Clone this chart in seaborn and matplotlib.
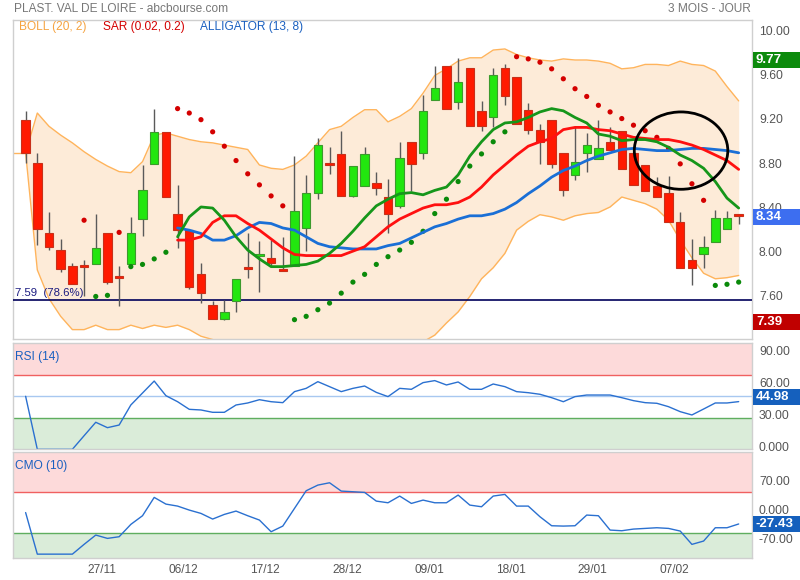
import numpy as np
import pandas as pd
import matplotlib
matplotlib.use("Agg")
import matplotlib.pyplot as plt
import matplotlib.transforms as mtransforms
from matplotlib.patches import Ellipse, Rectangle
import seaborn as sns

# trading sessions (Euronext, closed 25/12, 26/12, 01/01)
dates = [d for d in pd.bdate_range("2018-11-19", "2019-02-15")
         if d.strftime("%m-%d") not in ("12-25", "12-26", "01-01")]

opens = [9.22, 8.83, 8.19, 8.04, 7.90, 7.90, 7.91, 8.19, 7.80, 7.91,
         8.32, 8.82, 9.11, 8.37, 8.22, 7.82, 7.54, 7.42, 7.58, 7.89,
         7.99, 7.97, 7.86, 7.90, 8.24, 8.56, 8.82, 8.91, 8.53, 8.62,
         8.65, 8.52, 8.44, 9.02, 8.92, 9.40, 9.71, 9.38, 9.69, 9.30,
         9.24, 9.69, 9.61, 9.31, 9.13, 9.22, 8.92, 8.72, 8.92, 8.86,
         9.02, 9.12, 8.92, 8.81, 8.62, 8.56, 8.29, 7.95, 8.00, 8.11,
         8.23, 8.36]
highs = [9.30, 8.92, 8.38, 8.14, 7.92, 7.95, 8.37, 8.19, 7.90, 8.34,
         8.81, 9.32, 9.11, 8.63, 8.22, 7.92, 7.58, 7.59, 7.78, 8.19,
         8.12, 8.13, 8.16, 8.89, 8.72, 9.05, 8.97, 9.12, 8.80, 8.97,
         8.75, 8.68, 9.02, 9.02, 9.44, 9.71, 9.71, 9.78, 9.69, 9.39,
         9.69, 9.72, 9.61, 9.37, 9.18, 9.22, 8.92, 9.16, 9.10, 9.22,
         9.15, 9.12, 8.92, 8.81, 8.70, 8.71, 8.38, 8.14, 8.17, 8.40,
         8.39, 8.36]
lows = [8.83, 8.09, 8.04, 7.84, 7.73, 7.62, 7.91, 7.73, 7.53, 7.91,
        8.17, 8.82, 8.52, 8.06, 7.69, 7.56, 7.42, 7.41, 7.48, 7.79,
        7.66, 7.89, 7.85, 7.90, 8.03, 8.50, 8.73, 8.53, 8.52, 8.62,
        8.54, 8.19, 8.42, 8.57, 8.86, 9.40, 9.32, 9.32, 9.16, 9.12,
        9.15, 9.35, 9.18, 9.09, 8.82, 8.78, 8.53, 8.67, 8.75, 8.86,
        8.95, 8.77, 8.63, 8.57, 8.52, 8.29, 7.88, 7.72, 7.88, 8.11,
        8.23, 8.28]
closes = [8.92, 8.23, 8.07, 7.87, 7.73, 7.89, 8.06, 7.75, 7.79, 8.19,
          8.58, 9.11, 8.52, 8.22, 7.71, 7.65, 7.42, 7.48, 7.78, 7.87,
          8.00, 7.92, 7.85, 8.39, 8.56, 8.99, 8.81, 8.53, 8.80, 8.91,
          8.60, 8.37, 8.87, 8.82, 9.30, 9.51, 9.32, 9.56, 9.16, 9.16,
          9.62, 9.43, 9.18, 9.13, 9.02, 8.82, 8.58, 8.84, 8.99, 8.96,
          8.95, 8.77, 8.63, 8.57, 8.52, 8.29, 7.88, 7.88, 8.07, 8.33,
          8.33, 8.35]

boll_upper = [8.92, 9.28, 9.16, 9.08, 9.01, 8.93, 8.86, 8.80, 8.75, 8.74,
              8.84, 9.08, 9.10, 9.07, 9.04, 9.02, 9.01, 8.99, 8.97, 8.95,
              8.81, 8.78, 8.77, 8.81, 8.89, 9.01, 9.13, 9.16, 9.24, 9.31,
              9.31, 9.20, 9.25, 9.32, 9.46, 9.62, 9.68, 9.75, 9.78, 9.78,
              9.85, 9.86, 9.81, 9.78, 9.76, 9.75, 9.77, 9.76, 9.76, 9.75,
              9.73, 9.68, 9.69, 9.72, 9.72, 9.71, 9.75, 9.72, 9.71, 9.66,
              9.52, 9.39]
boll_lower = [8.92, 7.86, 7.60, 7.44, 7.32, 7.32, 7.36, 7.32, 7.32, 7.36,
              7.33, 7.36, 7.34, 7.36, 7.32, 7.26, 7.23, 7.19, 7.16, 7.14,
              7.12, 7.11, 7.10, 7.10, 7.09, 7.07, 7.06, 7.07, 7.08, 7.09,
              7.10, 7.12, 7.14, 7.17, 7.21, 7.27, 7.38, 7.48, 7.62, 7.78,
              7.88, 8.01, 8.22, 8.30, 8.36, 8.34, 8.31, 8.35, 8.37, 8.38,
              8.43, 8.52, 8.49, 8.46, 8.41, 8.31, 8.13, 7.97, 7.83, 7.78,
              7.79, 7.81]

nan = np.nan
sar = [nan, nan, nan, nan, nan, 8.31, 7.62, 7.63, 8.20, 7.89,
       7.91, 7.96, 8.02, 9.32, 9.28, 9.22, 9.11, 8.98, 8.85, 8.73,
       8.63, 8.53, 8.44, 7.41, 7.44, 7.50, 7.56, 7.65, 7.75, 7.82,
       7.91, 7.98, 8.04, 8.11, 8.21, 8.37, 8.50, 8.66, 8.80, 8.91,
       9.02, 9.11, 9.79, 9.77, 9.74, 9.68, 9.59, 9.50, 9.43, 9.35,
       9.29, 9.23, 9.17, 9.12, 9.06, 8.96, 8.82, 8.64, 8.49, 7.72,
       7.73, 7.75]

pad13 = [nan] * 13
lips = pad13 + [8.16, 8.34, 8.43, 8.42, 8.31, 8.16, 8.04, 7.96, 7.89, 7.89,
                7.90, 7.91, 7.94, 8.01, 8.10, 8.21, 8.33, 8.44, 8.50, 8.55,
                8.56, 8.54, 8.58, 8.61, 8.72, 8.89, 9.02, 9.13, 9.19, 9.20,
                9.24, 9.29, 9.32, 9.30, 9.24, 9.19, 9.09, 9.07, 9.03, 9.04,
                9.04, 9.02, 8.97, 8.90, 8.85, 8.78, 8.66, 8.51, 8.42]
teeth = pad13 + [8.13, 8.13, 8.16, 8.29, 8.35, 8.35, 8.28, 8.22, 8.14, 8.06,
                 8.00, 7.99, 7.99, 7.99, 7.99, 8.03, 8.07, 8.16, 8.25, 8.32,
                 8.37, 8.42, 8.45, 8.45, 8.47, 8.52, 8.61, 8.72, 8.81, 8.90,
                 8.98, 9.02, 9.05, 9.13, 9.15, 9.15, 9.13, 9.12, 9.09, 9.06,
                 9.05, 9.04, 9.04, 9.02, 8.99, 8.95, 8.90, 8.85, 8.77]
jaw = pad13 + [8.24, 8.22, 8.19, 8.13, 8.13, 8.17, 8.24, 8.29, 8.28, 8.24,
               8.22, 8.16, 8.10, 8.07, 8.06, 8.05, 8.05, 8.05, 8.08, 8.10,
               8.15, 8.20, 8.25, 8.28, 8.32, 8.35, 8.35, 8.37, 8.41, 8.47,
               8.55, 8.62, 8.70, 8.76, 8.80, 8.85, 8.89, 8.92, 8.95, 8.96,
               8.95, 8.94, 8.94, 8.95, 8.96, 8.96, 8.95, 8.94, 8.92]

rsi = [50.0, 0.0, 0.0, 0.0, 0.0, 12.8, 25.5, 20.4, 22.9, 41.8,
       53.1, 64.4, 50.6, 44.9, 37.7, 37.1, 34.9, 34.9, 41.8, 43.7,
       46.8, 44.9, 44.0, 54.4, 57.5, 63.8, 59.1, 54.4, 57.5, 59.7,
       53.7, 49.7, 57.5, 56.6, 62.9, 64.8, 60.7, 63.5, 56.6, 56.6,
       61.6, 59.1, 54.4, 53.4, 51.9, 48.7, 44.9, 49.7, 51.2, 51.2,
       51.2, 48.7, 45.9, 44.0, 43.4, 40.2, 35.5, 32.4, 38.0, 43.7,
       43.7, 44.98]
cmo = [0.0, -100.0, -100.0, -100.0, -100.0, -76.5, -54.1, -62.1, -58.1, -28.4,
       -7.6, 36.5, 20.4, 15.6, 6.0, -2.0, -15.6, -4.4, 3.6, -7.6,
       -18.0, -46.1, -32.5, 10.0, 52.5, 66.1, 71.7, 51.7, 50.1, 48.5,
       27.6, 23.6, 39.7, 22.0, 30.0, 23.6, 23.6, 42.1, 18.0, 14.0,
       39.7, 43.7, 15.6, 15.6, -10.0, -31.7, -32.5, -31.7, -6.0, -7.6,
       -42.1, -43.7, -39.7, -38.1, -36.5, -38.1, -44.5, -76.5, -68.5, -36.5,
       -36.5, -27.43]

period_high = 9.77
period_low = 7.39
last_price = 8.34
fibo_level = 7.59

idx = np.arange(len(dates))
grey = "#555555"

sns.set_theme(style="white")
plt.rcParams['font.family'] = ['Liberation Sans', 'DejaVu Sans']

fig = plt.figure(figsize=(8, 5.8), dpi=100)
L, W = 13 / 800, 739 / 800
ax = fig.add_axes([L, 1 - 339 / 580, W, 319 / 580])
ax_rsi = fig.add_axes([L, 1 - 449.3 / 580, W, 106 / 580], sharex=ax)
ax_cmo = fig.add_axes([L, 1 - 558.3 / 580, W, 106 / 580], sharex=ax)
lift = mtransforms.ScaledTranslation(0, 3 / 100, fig.dpi_scale_trans)

for a in (ax, ax_rsi, ax_cmo):
    for s in a.spines.values():
        s.set_color("#cfcfcf")
        s.set_linewidth(1)
    a.yaxis.tick_right()
    a.tick_params(axis="both", length=0, labelsize=8.8, labelcolor=grey, pad=5)

# ---- price panel ----
ax.fill_between(idx, boll_lower, boll_upper, color="#fdebd8", lw=0, zorder=1)
ax.plot(idx, boll_upper, color="#ffb45c", lw=1, zorder=2)
ax.plot(idx, boll_lower, color="#ffb45c", lw=1, zorder=2)
ax.plot([-1.1, 0], [boll_upper[0]] * 2, color="#ffb45c", lw=1, zorder=2)

ax.axhline(fibo_level, color="#00005a", lw=1.2, zorder=3)
ax.text(-0.95, fibo_level + 0.015, f"{fibo_level:.2f}  (78.6%)", color="#1a1a80",
        fontsize=8.2, va="bottom", ha="left", zorder=6)

candles = pd.DataFrame({"i": idx, "o": opens, "h": highs, "l": lows, "c": closes})
candles["up"] = candles["c"] >= candles["o"]
ax.vlines(candles["i"], candles["l"], candles["h"], color="#5a5a5a", lw=1, zorder=4)
body_lo = candles[["o", "c"]].min(axis=1)
body_h = (candles["c"] - candles["o"]).abs().clip(lower=0.018)
ax.bar(candles["i"], body_h, bottom=body_lo, width=0.72,
       color=np.where(candles["up"], "#22e60f", "#ff1a00"),
       edgecolor=np.where(candles["up"], "#3c9a2c", "#c8301a"),
       linewidth=0.8, zorder=5)

sar_df = pd.DataFrame({"i": idx, "sar": sar, "close": closes}).dropna()
sar_df["side"] = np.where(sar_df["sar"] > sar_df["close"], "down", "up")
sns.scatterplot(data=sar_df, x="i", y="sar", hue="side",
                palette={"down": "#d40000", "up": "#0a8a0a"},
                s=14, edgecolor="none", legend=False, ax=ax, zorder=6)

gator = pd.DataFrame({"i": idx, "jaw": jaw, "teeth": teeth, "lips": lips})
gator = gator.melt(id_vars="i", var_name="line", value_name="v").dropna()
sns.lineplot(data=gator, x="i", y="v", hue="line",
             palette={"jaw": "#1a6fd6", "teeth": "#ff1010", "lips": "#16961a"},
             hue_order=["jaw", "teeth", "lips"], lw=2, legend=False, ax=ax, zorder=7)

ax.add_patch(Ellipse((56.07, 8.94), width=8.0, height=0.70, fill=False,
                     edgecolor="black", lw=2, zorder=8))

ax.set_xlim(-1.08, 62.14)
ax.set_ylim(7.235, 10.122)
ax.set_yticks([7.6, 8.0, 8.4, 8.8, 9.2, 9.6, 10.0])
ax.set_yticklabels([f"{v:.2f}" for v in [7.6, 8.0, 8.4, 8.8, 9.2, 9.6, 10.0]])
ax.set_xlabel("")
ax.set_ylabel("")
ax.tick_params(axis="x", labelbottom=False)


def value_box(a, val, txt, color, h, dy=0.0):
    tr = mtransforms.blended_transform_factory(fig.transFigure, a.transData)
    tr = tr + mtransforms.ScaledTranslation(0, dy / 100, fig.dpi_scale_trans)
    a.add_patch(Rectangle((753 / 800, val - h / 2), 47 / 800, h, transform=tr,
                          facecolor=color, edgecolor="none", clip_on=False, zorder=20))
    a.text(756 / 800, val, txt, transform=tr, color="white", fontsize=9.5,
           fontweight="bold", va="center", ha="left", zorder=21, clip_on=False)


value_box(ax, period_high, f"{period_high:.2f}", "#0c8a0c", 0.145, dy=-1)
value_box(ax, last_price, f"{last_price:.2f}", "#3d6ef0", 0.145)
value_box(ax, period_low, f"{period_low:.2f}", "#c00000", 0.145)

# ---- RSI panel ----
ax_rsi.axhspan(70, 100, color="#fddada", lw=0)
ax_rsi.axhspan(0, 30, color="#daecd9", lw=0)
ax_rsi.axhline(70, color="#f06060", lw=1)
ax_rsi.axhline(50, color="#a8c8f0", lw=1)
ax_rsi.axhline(30, color="#5fae5f", lw=1)
sns.lineplot(x=idx, y=rsi, color="#2a70d0", lw=1, ax=ax_rsi)
ax_rsi.set_ylim(0, 100)
ax_rsi.set_yticks([0, 30, 60, 90])
ax_rsi.set_yticklabels(["0.000", "30.00", "60.00", "90.00"])
ax_rsi.tick_params(axis="x", labelbottom=False)
ax_rsi.text(0.003, 0.93, "RSI (14)", transform=ax_rsi.transAxes, color="#1a60c0",
            fontsize=8.6, va="top", ha="left")
value_box(ax_rsi, rsi[-1], f"{rsi[-1]:.2f}", "#1560bd", 15.1, dy=5)

# ---- CMO panel ----
ax_cmo.axhspan(50, 145, color="#fddada", lw=0)
ax_cmo.axhspan(-110, -50, color="#daecd9", lw=0)
ax_cmo.axhline(50, color="#f06060", lw=1)
ax_cmo.axhline(-50, color="#5fae5f", lw=1)
sns.lineplot(x=idx, y=cmo, color="#2a70d0", lw=1, ax=ax_cmo)
ax_cmo.set_ylim(-110, 145)
ax_cmo.set_yticks([-70, 0, 70])
ax_cmo.set_yticklabels(["-70.00", "0.000", "70.00"])
ax_cmo.text(0.003, 0.93, "CMO (10)", transform=ax_cmo.transAxes, color="#1a60c0",
            fontsize=8.6, va="top", ha="left")
value_box(ax_cmo, cmo[-1], f"{cmo[-1]:.2f}", "#1560bd", 38.5)

# tick labels sit a little above their level, as in the original
for a in (ax, ax_rsi, ax_cmo):
    for lab in a.get_yticklabels():
        lab.set_transform(lab.get_transform() + lift)

tick_pos = idx[6::7]
ax_cmo.set_xticks(tick_pos + 0.5)
ax_cmo.set_xticklabels([dates[i].strftime("%d/%m") for i in tick_pos])
ax_cmo.tick_params(axis="x", pad=4, labelsize=8.6)

# ---- header texts ----
fig.text(14 / 800, 1 - 9 / 580, "PLAST. VAL DE LOIRE - abcbourse.com", color="#777777",
         fontsize=8.6, va="center", ha="left")
fig.text(751 / 800, 1 - 9 / 580, "3 MOIS - JOUR", color="#777777",
         fontsize=8.6, va="center", ha="right")
for x0, txt, col in [(19, "BOLL (20, 2)", "#f5a341"),
                     (103, "SAR (0.02, 0.2)", "#d40000"),
                     (200, "ALLIGATOR (13, 8)", "#1a60c0")]:
    fig.text(x0 / 800, 1 - 27 / 580, txt, color=col, fontsize=8.6, va="center", ha="left")

fig.savefig("out.png", dpi=100, facecolor="white")
